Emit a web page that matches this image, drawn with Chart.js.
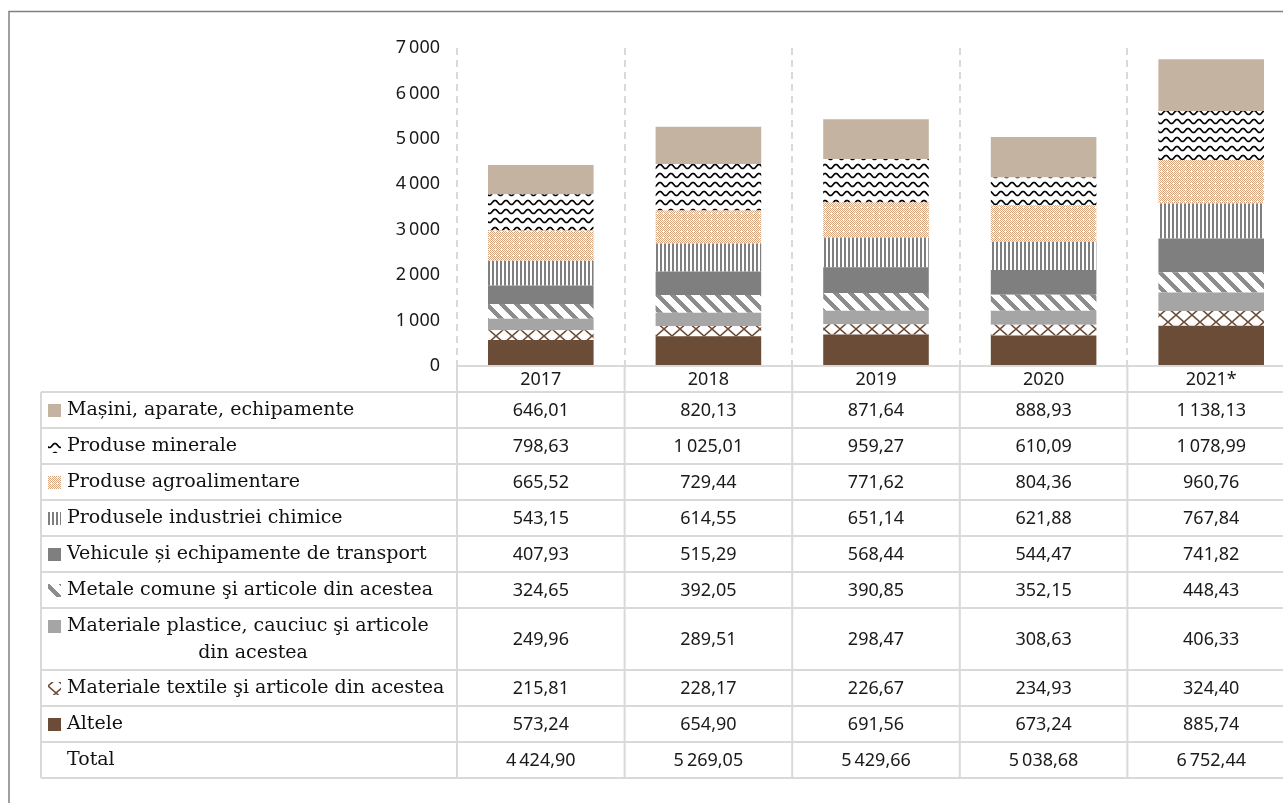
<!DOCTYPE html>
<html>
<head>
<meta charset="utf-8">
<script src="https://cdn.jsdelivr.net/npm/chart.js@4.4.0/dist/chart.umd.min.js"></script>
<style>
  html, body { margin: 0; padding: 0; background: #fff; overflow: hidden; }
  #wrap { position: absolute; left: 0; top: 0; width: 1310px; height: 803px; }
</style>
</head>
<body>
<div id="wrap"><canvas id="exports" width="1310" height="803"></canvas></div>
<script>
// categories and values (mil. USD), table order top -> bottom
var years = ['2017', '2018', '2019', '2020', '2021*'];
var groupNames = [
  'Mașini, aparate, echipamente',
  'Produse minerale',
  'Produse agroalimentare',
  'Produsele industriei chimice',
  'Vehicule și echipamente de transport',
  'Metale comune şi articole din acestea',
  'Materiale plastice, cauciuc şi articole din acestea',
  'Materiale textile şi articole din acestea',
  'Altele'
];
var masini   = [646.01, 820.13, 871.64, 888.93, 1138.13];
var minerale = [798.63, 1025.01, 959.27, 610.09, 1078.99];
var agro     = [665.52, 729.44, 771.62, 804.36, 960.76];
var chimice  = [543.15, 614.55, 651.14, 621.88, 767.84];
var vehicule = [407.93, 515.29, 568.44, 544.47, 741.82];
var metale   = [324.65, 392.05, 390.85, 352.15, 448.43];
var plastice = [249.96, 289.51, 298.47, 308.63, 406.33];
var textile  = [215.81, 228.17, 226.67, 234.93, 324.40];
var altele   = [573.24, 654.90, 691.56, 673.24, 885.74];
var totals   = [4424.90, 5269.05, 5429.66, 5038.68, 6752.44];
var yTicks   = [0, 1000, 2000, 3000, 4000, 5000, 6000, 7000];

var groupValues = [masini, minerale, agro, chimice, vehicule, metale, plastice, textile, altele];

// fills
function tile(w, h, draw) {
  var c = document.createElement('canvas');
  c.width = w; c.height = h;
  var g = c.getContext('2d');
  g.fillStyle = '#fff';
  g.fillRect(0, 0, w, h);
  draw(g, w, h);
  return g.createPattern(c, 'repeat');
}

var wavePat = tile(11, 9, function (g, w, h) {
  g.strokeStyle = '#000';
  g.lineWidth = 1.7;
  g.beginPath();
  for (var x = -1; x <= w + 1; x += 0.5) {
    var y = 4.5 - 2 * Math.cos(2 * Math.PI * x / w);
    if (x === -1) g.moveTo(x, y); else g.lineTo(x, y);
  }
  g.stroke();
});

var agroPat = tile(6, 6, function (g) {
  g.fillStyle = '#d9a47e';
  for (var y = 0; y < 6; y++) {
    for (var x = 0; x < 6; x++) {
      if ((x + y) % 2 === 0) g.fillRect(x, y, 1, 1);
    }
  }
  g.fillStyle = '#fff';
  g.fillRect(2, 3, 3, 1);
  g.fillRect(3, 2, 1, 3);
});

var stripePat = tile(4, 1, function (g) {
  g.fillStyle = '#7f7f7f';
  g.fillRect(0, 0, 2, 1);
});

var diagPat = tile(15, 15, function (g) {
  g.fillStyle = '#8c8c8c';
  for (var y = 0; y < 15; y++) {
    for (var x = 0; x < 15; x++) {
      if (((x - y) % 15 + 15) % 15 < 6) g.fillRect(x, y, 1, 1);
    }
  }
});

var latticePat = tile(16, 14, function (g, w, h) {
  g.strokeStyle = '#6b4b36';
  g.lineWidth = 1.6;
  g.beginPath();
  g.moveTo(0, 0); g.lineTo(w, h);
  g.moveTo(w, 0); g.lineTo(0, h);
  g.stroke();
});

var groupFills = ['#c4b3a1', wavePat, agroPat, stripePat, '#7f7f7f', diagPat, '#a5a5a5', latticePat, '#6b4c37'];

// stacked datasets, bottom first
var datasets = [];
for (var i = groupNames.length - 1; i >= 0; i--) {
  datasets.push({
    label: groupNames[i],
    data: groupValues[i],
    backgroundColor: groupFills[i],
    borderWidth: 0,
    barPercentage: 0.63,
    categoryPercentage: 1
  });
}

function fmt(v, dec) {
  var s = v.toFixed(dec);
  var parts = s.split('.');
  var intp = parts[0].replace(/\B(?=(\d{3})+(?!\d))/g, '\u2009');
  return parts.length > 1 ? intp + ',' + parts[1] : intp;
}

var numFont = '18px "Noto Sans"';
var labelFont = '19px "DejaVu Serif"';
var rowHeights = [36, 36, 36, 36, 36, 36, 62, 36, 36, 36];

var framePlugin = {
  id: 'frame',
  beforeDraw: function (chart) {
    var ctx = chart.ctx;
    ctx.save();
    ctx.strokeStyle = '#808080';
    ctx.lineWidth = 1.5;
    ctx.beginPath();
    ctx.moveTo(9, 803); ctx.lineTo(9, 11.5); ctx.lineTo(1310, 11.5);
    ctx.stroke();
    ctx.restore();
  }
};

var tablePlugin = {
  id: 'dataTable',
  afterDraw: function (chart) {
    var ctx = chart.ctx;
    var area = chart.chartArea;
    var colW = (area.right - area.left) / years.length;
    var tableLeft = 41;
    var headTop = area.bottom;
    var headBottom = headTop + 26;
    var ys = [headBottom];
    rowHeights.forEach(function (h) { ys.push(ys[ys.length - 1] + h); });
    var bottom = ys[ys.length - 1];

    ctx.save();
    ctx.strokeStyle = '#d9d9d9';
    ctx.lineWidth = 2;
    ctx.beginPath();
    ctx.moveTo(area.left, headTop); ctx.lineTo(1310, headTop);
    ys.forEach(function (y) { ctx.moveTo(tableLeft, y); ctx.lineTo(1310, y); });
    ctx.moveTo(tableLeft, headBottom); ctx.lineTo(tableLeft, bottom);
    for (var c = 0; c <= years.length; c++) {
      var x = area.left + c * colW;
      ctx.moveTo(x, headTop); ctx.lineTo(x, bottom);
    }
    ctx.stroke();

    ctx.fillStyle = '#1a1a1a';
    ctx.textBaseline = 'middle';
    ctx.textAlign = 'center';
    ctx.font = numFont;
    years.forEach(function (yr, c) {
      ctx.fillText(yr, area.left + (c + 0.5) * colW, (headTop + headBottom) / 2 + 1);
    });

    var rows = groupNames.map(function (n, r) { return { name: n, vals: groupValues[r], fill: groupFills[r] }; });
    rows.push({ name: 'Total', vals: totals, fill: null });

    rows.forEach(function (row, r) {
      var top = ys[r], bot = ys[r + 1], mid = (top + bot) / 2;
      ctx.font = numFont;
      ctx.textAlign = 'center';
      ctx.fillStyle = '#1a1a1a';
      row.vals.forEach(function (v, c) {
        ctx.fillText(fmt(v, 2), area.left + (c + 0.5) * colW, mid + 1);
      });
      ctx.font = labelFont;
      ctx.textAlign = 'left';
      ctx.fillStyle = '#111';
      var firstY = mid;
      if (row.name === 'Materiale plastice, cauciuc şi articole din acestea') {
        firstY = top + 18;
        ctx.fillText('Materiale plastice, cauciuc şi articole', 67, firstY);
        ctx.textAlign = 'center';
        ctx.fillText('din acestea', 253, top + 45);
      } else {
        ctx.fillText(row.name, 67, mid);
      }
      if (row.fill) {
        ctx.fillStyle = row.fill;
        ctx.fillRect(48, firstY - 6, 13, 13);
      }
    });
    ctx.restore();
  }
};

var config = {
  type: 'bar',
  data: { labels: years, datasets: datasets },
  options: {
    responsive: false,
    animation: false,
    layout: { padding: { top: 48, bottom: 437, left: 0, right: 15 } },
    plugins: {
      legend: { display: false },
      tooltip: { enabled: false },
      title: { display: false }
    },
    scales: {
      x: {
        stacked: true,
        grid: { display: true, offset: true, color: '#d9d9d9', lineWidth: 2, drawTicks: false },
        border: { display: false, dash: [7, 5] },
        ticks: { display: false },
        afterFit: function (s) { s.height = 0; }
      },
      y: {
        stacked: true,
        min: yTicks[0],
        max: yTicks[yTicks.length - 1],
        afterBuildTicks: function (s) { s.ticks = yTicks.map(function (v) { return { value: v }; }); },
        ticks: {
          padding: 17,
          color: '#1a1a1a',
          font: { family: 'Noto Sans', size: 18 },
          callback: function (v) { return fmt(v, 0); }
        },
        grid: { display: false, drawTicks: false },
        border: { display: false },
        afterFit: function (s) { s.width = 457; }
      }
    }
  },
  plugins: [framePlugin, tablePlugin]
};

window.onload = function () {
  var ctx = document.getElementById('exports').getContext('2d');
  window.exportsChart = new Chart(ctx, config);
};
</script>
</body>
</html>
